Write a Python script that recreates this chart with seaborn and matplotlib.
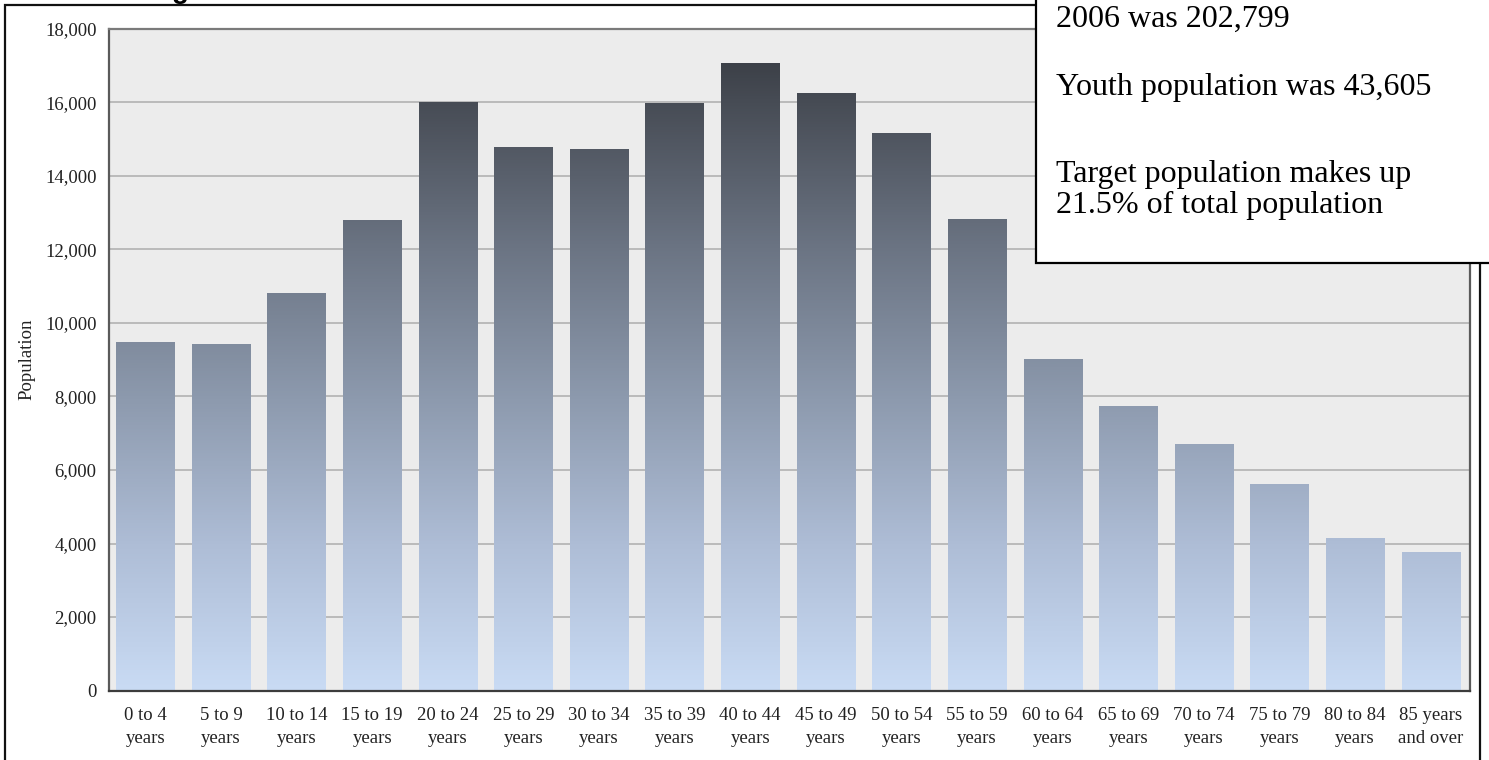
import numpy as np
import pandas as pd
import matplotlib
matplotlib.use("Agg")
import matplotlib.pyplot as plt
from matplotlib.colors import LinearSegmentedColormap
from matplotlib.patches import Rectangle
from matplotlib.ticker import StrMethodFormatter
import seaborn as sns

# Age groups and population counts (2006)
age_groups = [
    "0 to 4\nyears", "5 to 9\nyears", "10 to 14\nyears", "15 to 19\nyears",
    "20 to 24\nyears", "25 to 29\nyears", "30 to 34\nyears", "35 to 39\nyears",
    "40 to 44\nyears", "45 to 49\nyears", "50 to 54\nyears", "55 to 59\nyears",
    "60 to 64\nyears", "65 to 69\nyears", "70 to 74\nyears", "75 to 79\nyears",
    "80 to 84\nyears", "85 years\nand over",
]
population = [
    9490, 9440, 10810, 12790, 16000, 14780, 14730, 15980, 17070,
    16250, 15160, 12830, 9010, 7750, 6710, 5620, 4160, 3780,
]
y_ticks = [0, 2000, 4000, 6000, 8000, 10000, 12000, 14000, 16000, 18000]
info_lines = [
    "2006 was 202,799",
    "Youth population was 43,605",
    "Target population makes up",
    "21.5% of total population",
]

df = pd.DataFrame({"age": age_groups, "population": population})

sns.set_style("white")
plt.rcParams["font.family"] = ["Liberation Serif", "DejaVu Serif"]

W, H = 1489, 760
fig = plt.figure(figsize=(W / 100, H / 100), dpi=100)
fig.patch.set_facecolor("white")
ax = fig.add_axes([109 / W, 1 - 690.5 / H, (1470 - 109) / W, (690.5 - 29) / H])
ax.set_facecolor("#ececec")

sns.barplot(data=df, x="age", y="population", color="#8d9aae", width=0.77,
            ax=ax, zorder=2)

ymax = y_ticks[-1]
xlim = (-0.48, len(age_groups) - 0.48)

# vertical gradient shared by all bars (dark at the top, pale blue at the base)
grad_cmap = LinearSegmentedColormap.from_list(
    "slate",
    [(0.0, "#c9dbf4"), (0.22, "#aebdd6"), (0.44, "#8d9aae"),
     (0.67, "#6b7483"), (0.89, "#474c55"), (1.0, "#33373d")],
)
grad = np.linspace(0, 1, 512).reshape(-1, 1)
for bar in list(ax.patches):
    bar.set_facecolor("none")
    bar.set_edgecolor("none")
    im = ax.imshow(grad, cmap=grad_cmap, origin="lower", aspect="auto",
                   extent=(xlim[0], xlim[1], 0, ymax), zorder=2,
                   interpolation="bilinear")
    im.set_clip_path(bar)

ax.set_xlim(*xlim)
ax.set_ylim(0, ymax)
ax.set_yticks(y_ticks)
ax.yaxis.set_major_formatter(StrMethodFormatter("{x:,.0f}"))
ax.grid(axis="y", color="#b6b6b6", linewidth=1.3)
ax.set_axisbelow(True)

ax.set_xlabel("")
ax.set_ylabel("Population", fontsize=13.5, color="#222222", labelpad=7)
ax.tick_params(axis="both", which="major", direction="out", length=6,
               width=1.2, color="#404040", labelsize=13.5,
               labelcolor="#222222", pad=3)
ax.tick_params(axis="x", pad=6)
for lbl in ax.get_xticklabels():
    lbl.set_linespacing(1.45)

for side, col in {"left": "#5a5a5a", "bottom": "#3c3c3c",
                  "top": "#7a7a7a", "right": "#5a5a5a"}.items():
    ax.spines[side].set_visible(True)
    ax.spines[side].set_color(col)
    ax.spines[side].set_linewidth(1.6)

# outer frame around the chart
frame = Rectangle((5 / W, -0.2), (1480 - 5) / W, 1.2 - 5 / H,
                  transform=fig.transFigure, fill=False,
                  edgecolor="#111111", linewidth=1.6, clip_on=False, zorder=5)
fig.add_artist(frame)

# title above the frame
fig.text(180 / W, 1 + 2 / H, "g", ha="center", va="baseline",
         fontsize=20, fontweight="bold", family=["Liberation Sans"],
         color="black")

# summary box in the top right corner
box = Rectangle((1036 / W, 1 - 263 / H), 0.5, 0.5,
                transform=fig.transFigure, facecolor="white",
                edgecolor="black", linewidth=1.6, clip_on=False, zorder=10)
fig.add_artist(box)
baselines = [27, 95, 182, 213]
for line, yb in zip(info_lines, baselines):
    fig.text(1056 / W, 1 - yb / H, line, ha="left", va="baseline",
             fontsize=23, color="black", zorder=11,
             family=["Liberation Serif"])

fig.savefig("out.png", dpi=100, facecolor="white")
